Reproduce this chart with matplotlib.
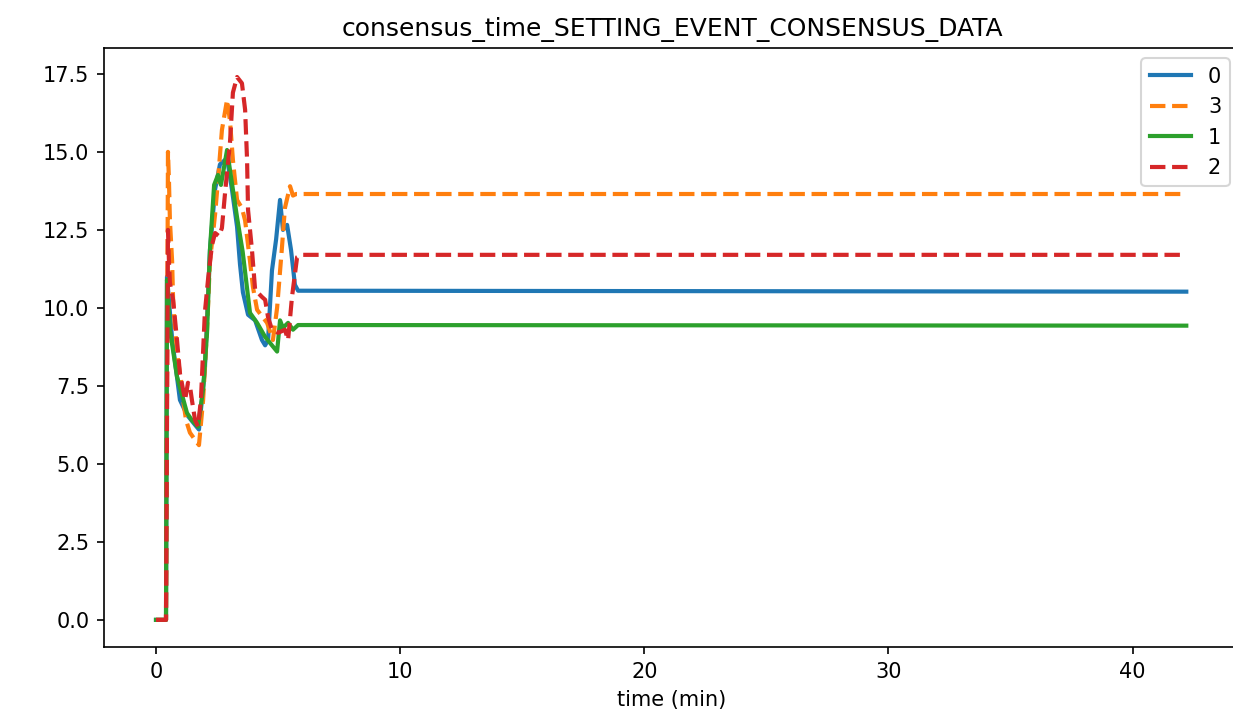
import matplotlib
matplotlib.use("Agg")
import matplotlib.pyplot as plt

title = "consensus_time_SETTING_EVENT_CONSENSUS_DATA"
xlabel = "time (min)"

t0 = [0, 0.41, 0.45, 0.66, 0.98, 1.27, 1.6, 1.76, 2.0, 2.21, 2.42, 2.62, 2.91, 3.11, 3.32, 3.44,
      3.56, 3.77, 4.06, 4.34, 4.47, 4.59, 4.75, 4.92, 5.08, 5.2, 5.37, 5.53, 5.69, 5.82, 42.2]
v0 = [0, 0, 11.0, 9.0, 7.05, 6.57, 6.25, 6.1, 8.0, 11.86, 13.8, 14.6, 14.8, 13.8, 12.6, 11.4,
      10.5, 9.78, 9.6, 8.97, 8.8, 8.97, 11.2, 12.2, 13.46, 12.5, 12.66, 11.86, 10.74, 10.55, 10.52]

t3 = [0, 0.41, 0.49, 0.53, 0.57, 0.66, 0.7, 0.78, 0.9, 1.02, 1.11, 1.23, 1.39, 1.6, 1.76, 1.93,
      2.09, 2.21, 2.42, 2.54, 2.7, 2.91, 3.03, 3.15, 3.32, 3.52, 3.65, 3.85, 3.97, 4.14, 4.55,
      4.79, 4.96, 5.16, 5.28, 5.49, 5.61, 5.74, 42.2]
v3 = [0, 0, 15.0, 14.1, 12.8, 11.5, 10.26, 9.3, 8.33, 7.7, 7.05, 6.4, 6.0, 5.77, 5.6, 7.05,
      9.3, 11.5, 13.0, 14.1, 15.7, 16.67, 16.0, 14.74, 13.46, 13.2, 12.8, 11.5, 10.67, 9.94, 9.52,
      8.97, 10.0, 11.95, 13.2, 13.9, 13.6, 13.65, 13.65]

t1 = [0, 0.41, 0.45, 0.57, 0.86, 1.27, 1.47, 1.72, 1.93, 2.09, 2.21, 2.38, 2.54, 2.66, 2.91,
      3.03, 3.32, 3.55, 3.85, 4.14, 4.47, 4.75, 4.96, 5.08, 5.2, 5.41, 5.61, 5.82, 42.2]
v1 = [0, 0, 10.9, 9.3, 7.8, 6.63, 6.4, 6.19, 7.4, 9.2, 11.86, 13.94, 14.26, 13.94, 15.06,
      14.42, 12.9, 11.8, 9.84, 9.52, 9.07, 8.8, 8.6, 9.6, 9.36, 9.52, 9.3, 9.45, 9.43]

t2 = [0, 0.41, 0.49, 0.53, 0.57, 0.7, 0.86, 0.98, 1.19, 1.31, 1.39, 1.47, 1.6, 1.72, 1.84,
      2.0, 2.13, 2.29, 2.42, 2.58, 2.7, 2.83, 3.03, 3.15, 3.32, 3.52, 3.65, 3.73, 3.77, 3.93,
      4.06, 4.34, 4.47, 4.59, 4.75, 5.0, 5.28, 5.41, 5.57, 5.78, 5.94, 42.2]
v2 = [0, 0, 12.5, 11.5, 10.8, 10.26, 8.97, 7.9, 7.05, 7.6, 7.5, 7.05, 6.4, 6.2, 7.05,
      9.84, 10.9, 12.0, 12.4, 12.3, 12.56, 13.7, 15.3, 16.9, 17.4, 17.2, 16.35, 14.74, 13.14, 11.86,
      10.58, 10.35, 10.26, 9.7, 9.3, 9.2, 9.3, 8.97, 10.35, 11.63, 11.7, 11.7]

W, H = 1233, 719
fig = plt.figure(figsize=(W / 150, H / 150), dpi=150)
ax = fig.add_axes([104 / W, (H - 647) / H, (1240 - 104) / W, (647 - 48) / H])

lw = 2
ax.plot(t0, v0, color="#1f77b4", linestyle="-", lw=lw, label="0")
ax.plot(t3, v3, color="#ff7f0e", linestyle="--", lw=lw, label="3")
ax.plot(t1, v1, color="#2ca02c", linestyle="-", lw=lw, label="1")
ax.plot(t2, v2, color="#d62728", linestyle="--", lw=lw, label="2")

ax.set_xlim(-2.13, 44.4)
ax.set_ylim(-0.87, 18.33)
ax.set_xticks([0, 10, 20, 30, 40])
ax.set_yticks([0, 2.5, 5, 7.5, 10, 12.5, 15, 17.5])
ax.set_title(title)
ax.set_xlabel(xlabel)
ax.legend(loc="upper right")

fig.savefig("out.png", dpi=150)
